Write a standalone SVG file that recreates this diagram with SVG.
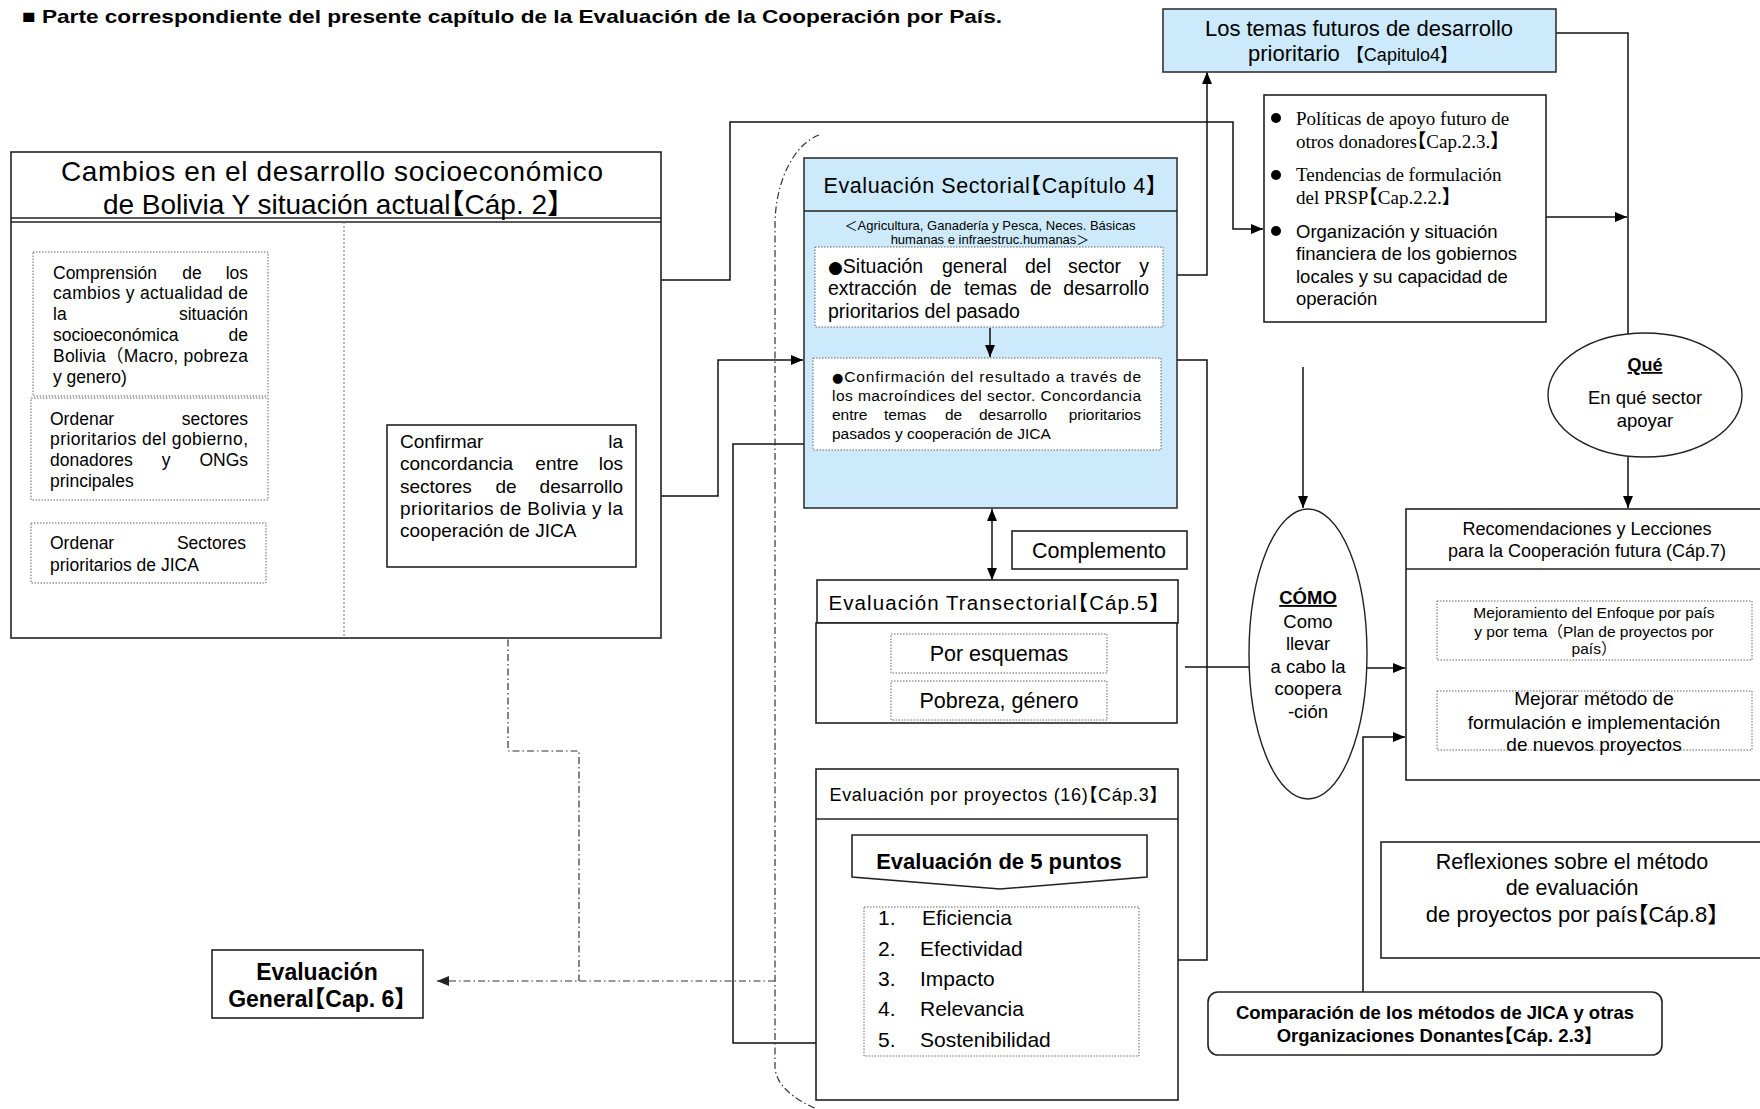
<svg xmlns="http://www.w3.org/2000/svg" width="1760" height="1109" viewBox="0 0 1760 1109">
<defs>
<marker id="ah" viewBox="0 0 12 10" refX="12" refY="5" markerWidth="12" markerHeight="10" markerUnits="userSpaceOnUse" orient="auto-start-reverse"><path d="M0,0 L12,5 L0,10 z" fill="#000"/></marker>
<marker id="ahs" viewBox="0 0 12 10" refX="12" refY="5" markerWidth="12" markerHeight="10" markerUnits="userSpaceOnUse" orient="auto-start-reverse"><path d="M0,0 L12,5 L0,10 z" fill="#222"/></marker>
</defs>
<style>
text{font-family:"Liberation Sans",Arial,"Noto Sans CJK JP",sans-serif;fill:#000}
.serif{font-family:"Liberation Serif","Times New Roman","Noto Sans CJK JP",serif}
.h{font-feature-settings:"halt"}
.bul{font-family:"DejaVu Sans",sans-serif}
.b{font-weight:bold}
.box{fill:#fff;stroke:#222;stroke-width:1.6}
.blue{fill:#cceafb;stroke:#333;stroke-width:1.6}
.dot{fill:#fff;stroke:#666;stroke-width:1;stroke-dasharray:1.5 1.5}
.dotn{fill:none;stroke:#666;stroke-width:1;stroke-dasharray:1.5 1.5}
.ln{fill:none;stroke:#111;stroke-width:1.5}
.dd{fill:none;stroke:#333;stroke-width:1.2;stroke-dasharray:7 3 1.5 3}
.c{text-anchor:middle}
.e{text-anchor:end}
</style>

<text x="22" y="23" font-size="19" class="b" textLength="980" lengthAdjust="spacingAndGlyphs">■ Parte correspondiente del presente capítulo de la Evaluación de la Cooperación por País.</text>

<g id="connectors">
<path class="ln" d="M268,439 H311 V554 H266"/>
<path class="ln" d="M311,498 H383" marker-end="url(#ah)"/>
<path class="ln" d="M636,496 H718 V360 H803" marker-end="url(#ah)"/>
<path class="ln" d="M661,280 H730 V122 H1233 V229 H1263" marker-end="url(#ah)"/>
<path class="ln" d="M1177,275 H1207 V72" marker-end="url(#ah)"/>
<path class="ln" d="M1177,360 H1207 V960 H1178"/>
<path class="ln" d="M836,444 H733 V1043 H875" marker-end="url(#ah)"/>
<path class="ln" d="M992,509 V580" marker-start="url(#ah)" marker-end="url(#ah)"/>
<path class="ln" d="M1185,667 H1250"/>
<path class="ln" d="M1367,668 H1405" marker-end="url(#ah)"/>
<path class="ln" d="M1363,992 V737 H1405" marker-end="url(#ah)"/>
<path class="ln" d="M1303,367 V508" marker-end="url(#ah)"/>
<path class="ln" d="M1555,33 H1628 V334"/>
<path class="ln" d="M1546,217 H1627" marker-end="url(#ah)"/>
<path class="ln" d="M1628,457 V508" marker-end="url(#ah)"/>
<path class="dd" d="M775,981 H437" marker-end="url(#ahs)"/>
<path class="dd" d="M508,567 V751 H579 V981"/>
<path class="dd" d="M819,135 C792,145 775,185 775,225 L775,1066 C775,1085 795,1100 817,1109"/>
</g>

<g id="cambios">
<rect class="box" x="11" y="152" width="650" height="486"/>
<line x1="11" y1="218" x2="661" y2="218" stroke="#222" stroke-width="1.5"/>
<line x1="11" y1="222" x2="661" y2="222" stroke="#222" stroke-width="1.5"/>
<line x1="344" y1="222" x2="344" y2="638" stroke="#777" stroke-width="1" stroke-dasharray="2 2"/>
<text x="332" y="181" font-size="28" class="c" textLength="542">Cambios en el desarrollo socioeconómico</text>
<text x="332" y="214" font-size="28" class="c h">de Bolivia Y situación actual【Cáp. 2】</text>
</g>

<g id="comprension">
<rect class="dot" x="33" y="252" width="235" height="144"/>
<g font-size="17.5">
<text x="53" y="279">Comprensión</text><text x="192" y="279" class="c">de</text><text x="248" y="279" class="e">los</text>
<text x="53" y="299" textLength="195">cambios y actualidad de</text>
<text x="53" y="320">la</text><text x="248" y="320" class="e">situación</text>
<text x="53" y="341">socioeconómica</text><text x="248" y="341" class="e">de</text>
<text x="53" y="362" textLength="195">Bolivia（Macro, pobreza</text>
<text x="53" y="383">y genero)</text>
</g>
</g>

<g id="ordenar1">
<rect class="dot" x="31" y="398" width="237" height="102"/>
<g font-size="17.5">
<text x="50" y="425">Ordenar</text><text x="248" y="425" class="e">sectores</text>
<text x="50" y="445" textLength="198">prioritarios del gobierno,</text>
<text x="50" y="466">donadores</text><text x="166" y="466" class="c">y</text><text x="248" y="466" class="e">ONGs</text>
<text x="50" y="487">principales</text>
</g>
</g>

<g id="ordenar2">
<rect class="dot" x="31" y="523" width="235" height="60"/>
<g font-size="17.5">
<text x="50" y="549">Ordenar</text><text x="246" y="549" class="e">Sectores</text>
<text x="50" y="571">prioritarios de JICA</text>
</g>
</g>

<g id="confirmar">
<rect class="box" x="387" y="425" width="249" height="142"/>
<g font-size="19">
<text x="400" y="448">Confirmar</text><text x="623" y="448" class="e">la</text>
<text x="400" y="470">concordancia</text><text x="557" y="470" class="c">entre</text><text x="623" y="470" class="e">los</text>
<text x="400" y="493">sectores</text><text x="506" y="493" class="c">de</text><text x="623" y="493" class="e">desarrollo</text>
<text x="400" y="515" textLength="223">prioritarios de Bolivia y la</text>
<text x="400" y="537">cooperación de JICA</text>
</g>
</g>

<g id="sectorial">
<rect class="blue" x="804" y="158" width="373" height="350"/>
<line x1="804" y1="211" x2="1177" y2="211" stroke="#222" stroke-width="1.5"/>
<text x="990" y="193" font-size="21.5" class="c h" textLength="333">Evaluación Sectorial【Capítulo 4】</text>
<text x="990" y="230" font-size="13" class="c" textLength="291">＜Agricultura, Ganadería y Pesca, Neces. Básicas</text>
<text x="990" y="244" font-size="13" class="c">humanas e infraestruc.humanas＞</text>
<rect class="dot" x="815" y="247" width="348" height="80"/>
<g font-size="19.5">
<text x="828" y="273"><tspan class="bul" font-size="17">●</tspan>Situación</text><text x="942" y="273">general</text><text x="1025" y="273">del</text><text x="1068" y="273">sector</text><text x="1149" y="273" class="e">y</text>
<text x="828" y="295">extracción</text><text x="930" y="295">de</text><text x="964" y="295">temas</text><text x="1030" y="295">de</text><text x="1149" y="295" class="e">desarrollo</text>
<text x="828" y="318">prioritarios del pasado</text>
</g>
<path class="ln" d="M990,328 V357" marker-end="url(#ah)"/>
<rect class="dot" x="813" y="358" width="348" height="92"/>
<g font-size="15.5">
<text x="832" y="382" textLength="309"><tspan class="bul" font-size="13">●</tspan>Confirmación del resultado a través de</text>
<text x="832" y="401" textLength="309">los macroíndices del sector. Concordancia</text>
<text x="832" y="420">entre</text><text x="884" y="420">temas</text><text x="945" y="420">de</text><text x="979" y="420">desarrollo</text><text x="1141" y="420" class="e">prioritarios</text>
<text x="832" y="439">pasados y cooperación de JICA</text>
</g>
</g>

<g id="complemento">
<rect class="box" x="1012" y="531" width="175" height="38"/>
<text x="1099" y="558" font-size="21.5" class="c">Complemento</text>
</g>

<g id="transectorial">
<rect class="box" x="817" y="580" width="361" height="43"/>
<text x="994" y="610" font-size="20.5" class="c h" textLength="331">Evaluación Transectorial【Cáp.5】</text>
<rect class="box" x="816" y="623" width="361" height="100"/>
<rect class="dot" x="891" y="634" width="216" height="39"/>
<text x="999" y="661" font-size="21.5" class="c">Por esquemas</text>
<rect class="dot" x="891" y="681" width="216" height="39"/>
<text x="999" y="708" font-size="21.5" class="c">Pobreza, género</text>
</g>

<g id="proyectos">
<rect class="box" x="816" y="769" width="362" height="331"/>
<line x1="816" y1="819" x2="1178" y2="819" stroke="#222" stroke-width="1.5"/>
<text x="994" y="801" font-size="18" class="c h" textLength="329">Evaluación por proyectos (16)【Cáp.3】</text>
<path class="box" d="M852,835 H1147 V877 L1000,889 L852,877 Z"/>
<text x="999" y="869" font-size="22" class="c b">Evaluación de 5 puntos</text>
<rect class="dotn" x="864" y="907" width="275" height="149"/>
<g font-size="21">
<text x="878" y="925">1.</text><text x="922" y="925">Eficiencia</text>
<text x="878" y="956">2.</text><text x="920" y="956">Efectividad</text>
<text x="878" y="986">3.</text><text x="920" y="986">Impacto</text>
<text x="878" y="1016">4.</text><text x="920" y="1016">Relevancia</text>
<text x="878" y="1047">5.</text><text x="920" y="1047">Sostenibilidad</text>
</g>
</g>

<g id="general">
<rect class="box" x="212" y="950" width="211" height="68"/>
<text x="317" y="980" font-size="23" class="c b">Evaluación</text>
<text x="317" y="1007" font-size="23" class="c b h">General【Cap. 6】</text>
</g>

<g id="temas">
<rect class="blue" x="1163" y="9" width="393" height="63"/>
<text x="1359" y="36" font-size="22" class="c">Los temas futuros de desarrollo</text>
<text x="1353" y="61" font-size="22" class="c">prioritario <tspan font-size="18">【Capitulo4】</tspan></text>
</g>

<g id="politicas">
<rect class="box" x="1264" y="95" width="282" height="227"/>
<g font-size="18.5">
<circle cx="1276" cy="118" r="5"/>
<text class="serif h" x="1296" y="125" font-size="19">Políticas de apoyo futuro de</text>
<text class="serif h" x="1296" y="148" font-size="19">otros donadores【Cap.2.3.】</text>
<circle cx="1276" cy="175" r="5"/>
<text class="serif h" x="1296" y="181" font-size="19">Tendencias de formulación</text>
<text class="serif h" x="1296" y="204" font-size="19">del PRSP【Cap.2.2.】</text>
<circle cx="1276" cy="231" r="5"/>
<text x="1296" y="238">Organización y situación</text>
<text x="1296" y="260">financiera de los gobiernos</text>
<text x="1296" y="283">locales y su capacidad de</text>
<text x="1296" y="305">operación</text>
</g>
</g>

<g id="que">
<ellipse cx="1645" cy="395" rx="97" ry="62" fill="#fff" stroke="#222" stroke-width="1.4"/>
<text x="1645" y="371" font-size="18" class="c b" text-decoration="underline">Qué</text>
<text x="1645" y="404" font-size="18.5" class="c">En qué sector</text>
<text x="1645" y="427" font-size="18.5" class="c">apoyar</text>
</g>

<g id="como">
<ellipse cx="1308" cy="654" rx="59" ry="145" fill="#fff" stroke="#222" stroke-width="1.4"/>
<text x="1308" y="604" font-size="18.5" class="c b" text-decoration="underline">CÓMO</text>
<text x="1308" y="628" font-size="18.5" class="c">Como</text>
<text x="1308" y="650" font-size="18.5" class="c">llevar</text>
<text x="1308" y="673" font-size="18.5" class="c">a cabo la</text>
<text x="1308" y="695" font-size="18.5" class="c">coopera</text>
<text x="1308" y="718" font-size="18.5" class="c">-ción</text>
</g>

<g id="recomendaciones">
<rect class="box" x="1406" y="509" width="370" height="271"/>
<line x1="1406" y1="569" x2="1776" y2="569" stroke="#222" stroke-width="1.5"/>
<text x="1587" y="535" font-size="18" class="c">Recomendaciones y Lecciones</text>
<text x="1587" y="557" font-size="18" class="c">para la Cooperación futura (Cáp.7)</text>
<rect class="dot" x="1437" y="601" width="315" height="59"/>
<text x="1594" y="618" font-size="15.5" class="c">Mejoramiento del Enfoque por país</text>
<text x="1594" y="637" font-size="15.5" class="c">y por tema（Plan de proyectos por</text>
<text x="1594" y="654" font-size="15.5" class="c">país）</text>
<rect class="dot" x="1437" y="691" width="315" height="59"/>
<text x="1594" y="705" font-size="19" class="c">Mejorar método de</text>
<text x="1594" y="729" font-size="19" class="c">formulación e implementación</text>
<text x="1594" y="751" font-size="19" class="c">de nuevos proyectos</text>
</g>

<g id="reflexiones">
<rect class="box" x="1381" y="842" width="395" height="116"/>
<text x="1572" y="869" font-size="21.5" class="c">Reflexiones sobre el método</text>
<text x="1572" y="895" font-size="21.5" class="c">de evaluación</text>
<text x="1572" y="922" font-size="22" class="c h">de proyectos por país【Cáp.8】</text>
</g>

<g id="comparacion">
<rect class="box" x="1208" y="992" width="454" height="63" rx="10"/>
<text x="1435" y="1019" font-size="18.5" class="c b">Comparación de los métodos de JICA y otras</text>
<text x="1435" y="1042" font-size="18.5" class="c b h">Organizaciones Donantes【Cáp. 2.3】</text>
</g>
</svg>
